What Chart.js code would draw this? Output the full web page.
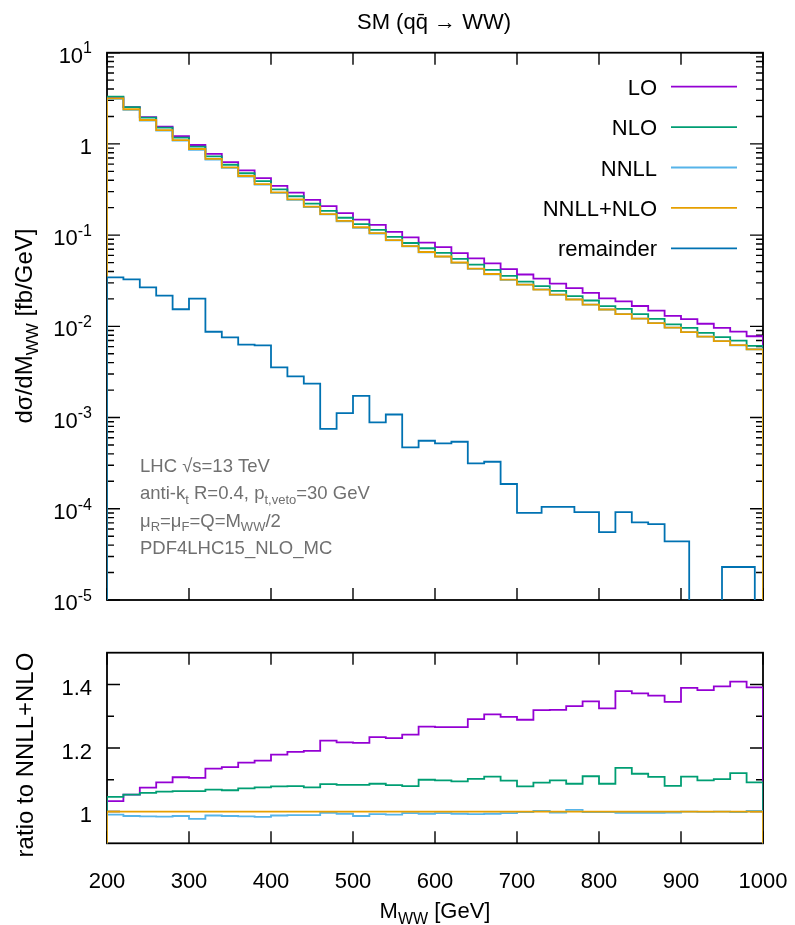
<!DOCTYPE html>
<html>
<head>
<meta charset="utf-8">
<script src="https://cdn.jsdelivr.net/npm/chart.js@4.4.0/dist/chart.umd.min.js"></script>
<style>
html, body { margin: 0; padding: 0; background: #fff; }
#wrap { position: relative; width: 795px; height: 925px; }
canvas { position: absolute; left: 0; }
#top { top: 0; }
#bot { top: 625px; }
</style>
</head>
<body>
<div id="wrap">
  <canvas id="top" width="795" height="625"></canvas>
  <canvas id="bot" width="795" height="300"></canvas>
</div>
<script>
// bin edges of M_WW [GeV]
const binEdges = [200,220,240,260,280,300,320,340,360,380,400,420,440,460,480,500,520,540,560,580,
                  600,620,640,660,680,700,720,740,760,780,800,820,840,860,880,900,920,940,960,980,1000];

// dsigma/dM_WW [fb/GeV]
const lo = [3.264,2.527,1.967,1.551,1.219,0.973,0.776,0.632,0.514,0.421,0.347,0.293,0.244,0.208,0.174,0.148,0.1296,0.1087,0.0943,0.0827,
            0.0738,0.0634,0.0555,0.0490,0.0423,0.0370,0.0334,0.0294,0.0262,0.0233,0.0203,0.01881,0.01671,0.01484,0.01305,0.01203,0.01068,0.00962,0.00875,0.00779];
const nlo = [3.305,2.527,1.938,1.509,1.170,0.936,0.731,0.591,0.477,0.391,0.317,0.267,0.221,0.1846,0.155,0.1322,0.1142,0.0956,0.0820,0.0718,
             0.0640,0.0549,0.0474,0.0416,0.0358,0.0310,0.0276,0.0245,0.0214,0.0192,0.01664,0.01552,0.01363,0.01205,0.01049,0.00961,0.00849,0.00760,0.00696,0.00612];
const nnll = [3.128,2.366,1.803,1.397,1.085,0.860,0.675,0.546,0.438,0.357,0.290,0.244,0.203,0.169,0.142,0.1203,0.1042,0.0874,0.0755,0.0648,
              0.0580,0.0497,0.0427,0.0372,0.0324,0.0286,0.0254,0.0222,0.0198,0.0173,0.0153,0.01359,0.01213,0.01083,0.00967,0.00866,0.00772,0.00690,0.00620,0.00561];
const nnllNlo = [3.16,2.40,1.83,1.42,1.10,0.88,0.684,0.554,0.445,0.363,0.294,0.247,0.205,0.170,0.143,0.122,0.105,0.0883,0.0759,0.0653,
                 0.0583,0.0501,0.0430,0.0375,0.0326,0.0287,0.0253,0.0223,0.0197,0.0173,0.0153,0.01364,0.01218,0.01087,0.00970,0.00866,0.00773,0.00690,0.00621,0.00560];
// null = bin not shown on the log scale
const remainder = [0.0344,0.0328,0.0268,0.0217,0.0154,0.0201,0.00873,0.00757,0.00629,0.00619,
                   0.00355,0.00283,0.00235,0.00075,0.00112,0.00173,0.000885,0.00108,0.000471,0.000557,
                   0.000521,0.000543,0.000315,0.000328,0.000187,0.0000904,null,0.000105,null,0.000092,
                   0.0000555,0.000092,0.000071,0.000068,0.0000439,null,0.000005,null,0.000023,null];

// ratio to NNLL+NLO
const ratioLo = [1.033,1.053,1.075,1.092,1.108,1.106,1.135,1.140,1.154,1.160,1.179,1.188,1.191,1.223,1.218,1.216,1.234,1.231,1.242,1.267,
                 1.266,1.266,1.291,1.306,1.298,1.289,1.319,1.320,1.332,1.347,1.325,1.379,1.372,1.365,1.345,1.389,1.382,1.394,1.409,1.391];
const ratioNlo = [1.046,1.053,1.059,1.0625,1.064,1.064,1.069,1.067,1.073,1.076,1.079,1.080,1.076,1.086,1.084,1.084,1.0875,1.083,1.080,1.100,
                  1.098,1.095,1.103,1.110,1.097,1.079,1.091,1.098,1.0875,1.111,1.0875,1.1375,1.119,1.109,1.081,1.110,1.098,1.102,1.121,1.092];
const ratioNnll = [0.990,0.986,0.985,0.984,0.986,0.977,0.9875,0.986,0.985,0.983,0.9875,0.989,0.989,0.996,0.993,0.986,0.992,0.990,0.995,0.993,
                   0.995,0.993,0.992,0.993,0.995,0.998,1.002,0.997,1.005,0.998,0.998,0.996,0.996,0.996,0.997,1.000,0.999,1.000,0.998,1.002];
const ratioNnllNlo = [1,1,1,1,1,1,1,1,1,1,1,1,1,1,1,1,1,1,1,1,
                      1,1,1,1,1,1,1,1,1,1,1,1,1,1,1,1,1,1,1,1];

const xTicks = [200,300,400,500,600,700,800,900,1000];
const logDecades = [-5,-4,-3,-2,-1,0,1];
const ratioMajor = [1,1.2,1.4];
const ratioMinor = [1.1,1.3];

const colors = { lo: '#9400d3', nlo: '#009e73', nnll: '#56b4e9', nnllNlo: '#e69f00', rem: '#0072b2' };
const FONT = '"Liberation Sans", Arial, sans-serif';

// gnuplot-like histeps: steps centred on bin centres, dropping to the baseline at both ends
function histeps(vals, base) {
  const pts = [];
  vals.forEach((v, i) => { if (v !== null) pts.push({ x: (binEdges[i] + binEdges[i + 1]) / 2, y: v }); });
  const n = pts.length;
  const x0 = pts[0].x - (pts[1].x - pts[0].x) / 2;
  const x1 = pts[n - 1].x + (pts[n - 1].x - pts[n - 2].x) / 2;
  return [{ x: x0, y: base }, { x: x0, y: pts[0].y }, ...pts, { x: x1, y: pts[n - 1].y }, { x: x1, y: base }];
}

function ds(label, vals, color, order, base) {
  return {
    label, data: histeps(vals, base), borderColor: color, borderWidth: 1.8,
    stepped: 'middle', pointRadius: 0, fill: false, order
  };
}

// text with sub/superscripts: parts = [[text, mode]], mode -1 sub, 1 sup
function rich(ctx, parts, x, y, size, align, color) {
  const f = m => (m ? Math.round(size * 0.72) : size) + 'px ' + FONT;
  let w = 0;
  parts.forEach(([t, m]) => { ctx.font = f(m); w += ctx.measureText(t).width; });
  let cx = align === 'center' ? x - w / 2 : align === 'right' ? x - w : x;
  ctx.textAlign = 'left';
  ctx.textBaseline = 'alphabetic';
  ctx.fillStyle = color || '#000';
  parts.forEach(([t, m]) => {
    ctx.font = f(m);
    const dy = m === -1 ? size * 0.25 : m === 1 ? -size * 0.42 : 0;
    ctx.fillText(t, cx, y + dy);
    cx += ctx.measureText(t).width;
  });
}

function framePlugin(yMajor, yMinor) {
  return {
    id: 'frame',
    beforeDatasetsDraw(chart) {
      const { ctx, chartArea: a, scales: { x, y } } = chart;
      ctx.save();
      ctx.strokeStyle = '#000';
      ctx.lineWidth = 1.4;
      ctx.beginPath();
      xTicks.forEach(v => {
        const px = x.getPixelForValue(v);
        ctx.moveTo(px, a.top); ctx.lineTo(px, a.top + 12);
        ctx.moveTo(px, a.bottom); ctx.lineTo(px, a.bottom - 12);
      });
      yMajor.forEach(v => {
        const py = y.getPixelForValue(v);
        ctx.moveTo(a.left, py); ctx.lineTo(a.left + 13, py);
        ctx.moveTo(a.right, py); ctx.lineTo(a.right - 13, py);
      });
      yMinor.forEach(v => {
        const py = y.getPixelForValue(v);
        ctx.moveTo(a.left, py); ctx.lineTo(a.left + 7, py);
        ctx.moveTo(a.right, py); ctx.lineTo(a.right - 7, py);
      });
      ctx.stroke();
      ctx.lineWidth = 1.8;
      ctx.strokeRect(a.left, a.top, a.right - a.left, a.bottom - a.top);
      ctx.restore();
    }
  };
}

// ---------- top panel ----------
const logMinor = [];
logDecades.slice(0, -1).forEach(e => { for (let k = 2; k <= 9; k++) logMinor.push(k * Math.pow(10, e)); });

const topLabels = {
  id: 'topLabels',
  afterDraw(chart) {
    const { ctx, scales: { y } } = chart;
    ctx.save();
    rich(ctx, [['SM (qq\u0304 \u2192 WW)', 0]], 434, 29, 22, 'center');
    logDecades.forEach(e => {
      const py = y.getPixelForValue(Math.pow(10, e)) + 10;
      if (e === 0) rich(ctx, [['1', 0]], 92, py, 22, 'right');
      else rich(ctx, [['10', 0], [String(e), 1]], 92, py, 22, 'right');
    });
    ctx.translate(32, 326);
    ctx.rotate(-Math.PI / 2);
    rich(ctx, [['d\u03c3/dM', 0], ['WW', -1], [' [fb/GeV]', 0]], 0, 0, 24, 'center');
    ctx.restore();

    ctx.save();
    const items = [['LO', colors.lo], ['NLO', colors.nlo], ['NNLL', colors.nnll], ['NNLL+NLO', colors.nnllNlo], ['remainder', colors.rem]];
    items.forEach(([t, c], i) => {
      const yc = 86.7 + 40.4 * i;
      rich(ctx, [[t, 0]], 657, yc + 8, 22, 'right');
      ctx.strokeStyle = c; ctx.lineWidth = 1.8;
      ctx.beginPath(); ctx.moveTo(671, yc); ctx.lineTo(737, yc); ctx.stroke();
    });
    const grey = '#707070';
    const notes = [
      [['LHC \u221as=13 TeV', 0]],
      [['anti-k', 0], ['t', -1], [' R=0.4, p', 0], ['t,veto', -1], ['=30 GeV', 0]],
      [['\u03bc', 0], ['R', -1], ['=\u03bc', 0], ['F', -1], ['=Q=M', 0], ['WW', -1], ['/2', 0]],
      [['PDF4LHC15_NLO_MC', 0]]
    ];
    notes.forEach((p, i) => rich(ctx, p, 140, 471.7 + 27.4 * i, 18.5, 'left', grey));
    ctx.restore();
  }
};

new Chart(document.getElementById('top'), {
  type: 'line',
  data: {
    datasets: [
      ds('LO', lo, colors.lo, 4, 1e-7),
      ds('NLO', nlo, colors.nlo, 3, 1e-7),
      ds('NNLL', nnll, colors.nnll, 2, 1e-7),
      ds('NNLL+NLO', nnllNlo, colors.nnllNlo, 1, 1e-7),
      ds('remainder', remainder, colors.rem, 0, 1e-7)
    ]
  },
  options: {
    responsive: false, animation: false, events: [],
    layout: { padding: { left: 107, right: 32, top: 52.7, bottom: 25 } },
    scales: {
      x: { type: 'linear', min: 200, max: 1000, display: false },
      y: { type: 'logarithmic', min: 1e-5, max: 10, display: false }
    },
    plugins: { legend: { display: false }, tooltip: { enabled: false } }
  },
  plugins: [framePlugin(logDecades.map(e => Math.pow(10, e)), logMinor), topLabels]
});

// ---------- ratio panel ----------
const botLabels = {
  id: 'botLabels',
  afterDraw(chart) {
    const { ctx, scales: { x, y } } = chart;
    ctx.save();
    ratioMajor.forEach(v => {
      rich(ctx, [[v === 1 ? '1' : v.toFixed(1), 0]], 92, y.getPixelForValue(v) + 10.5, 22, 'right');
    });
    xTicks.forEach(v => rich(ctx, [[String(v), 0]], x.getPixelForValue(v), 263, 22, 'center'));
    rich(ctx, [['M', 0], ['WW', -1], [' [GeV]', 0]], 435, 293, 22, 'center');
    ctx.translate(33, 130);
    ctx.rotate(-Math.PI / 2);
    rich(ctx, [['ratio to NNLL+NLO', 0]], 0, 0, 24, 'center');
    ctx.restore();
  }
};

new Chart(document.getElementById('bot'), {
  type: 'line',
  data: {
    datasets: [
      ds('LO', ratioLo, colors.lo, 4, 0),
      ds('NLO', ratioNlo, colors.nlo, 3, 0),
      ds('NNLL', ratioNnll, colors.nnll, 2, 0),
      ds('NNLL+NLO', ratioNnllNlo, colors.nnllNlo, 1, 0)
    ]
  },
  options: {
    responsive: false, animation: false, events: [],
    layout: { padding: { left: 107, right: 32, top: 27.7, bottom: 81.7 } },
    scales: {
      x: { type: 'linear', min: 200, max: 1000, display: false },
      y: { type: 'linear', min: 0.9, max: 1.5, display: false }
    },
    plugins: { legend: { display: false }, tooltip: { enabled: false } }
  },
  plugins: [framePlugin(ratioMajor, ratioMinor), botLabels]
});
</script>
</body>
</html>
